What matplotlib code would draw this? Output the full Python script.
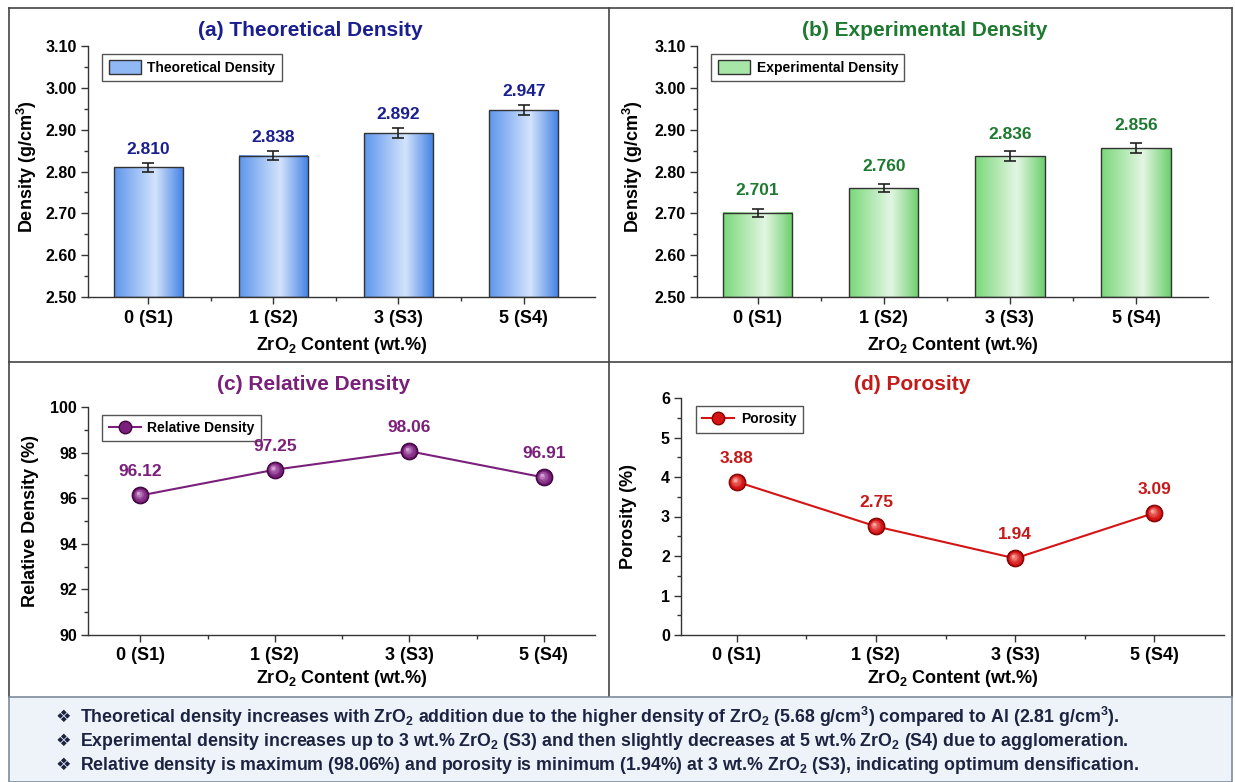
import matplotlib
matplotlib.use("Agg")
import matplotlib.pyplot as plt
import numpy as np
from matplotlib.colors import LinearSegmentedColormap, to_rgb
from matplotlib.lines import Line2D
from matplotlib.patches import Rectangle, Patch
from matplotlib.ticker import AutoMinorLocator, FixedLocator, FormatStrFormatter
import matplotlib.transforms as mtransforms

plt.rcParams['font.family'] = ['Liberation Sans', 'DejaVu Sans']
plt.rcParams['font.weight'] = 'bold'
plt.rcParams['axes.labelweight'] = 'bold'
plt.rcParams['mathtext.fontset'] = 'custom'
plt.rcParams['mathtext.rm'] = 'Liberation Sans:bold'
plt.rcParams['mathtext.bf'] = 'Liberation Sans:bold'
plt.rcParams['mathtext.it'] = 'Liberation Sans:bold'

# data
samples = ['0 (S1)', '1 (S2)', '3 (S3)', '5 (S4)']
theoretical = [2.810, 2.838, 2.892, 2.947]
theoretical_err = [0.010, 0.010, 0.012, 0.013]
experimental = [2.701, 2.760, 2.836, 2.856]
experimental_err = [0.010, 0.010, 0.012, 0.012]
relative = [96.12, 97.25, 98.06, 96.91]
porosity = [3.88, 2.75, 1.94, 3.09]

notes = [
    r'Theoretical density increases with ZrO$_2$ addition due to the higher density of ZrO$_2$ (5.68 g/cm$^3$) compared to Al (2.81 g/cm$^3$).',
    r'Experimental density increases up to 3 wt.% ZrO$_2$ (S3) and then slightly decreases at 5 wt.% ZrO$_2$ (S4) due to agglomeration.',
    r'Relative density is maximum (98.06%) and porosity is minimum (1.94%) at 3 wt.% ZrO$_2$ (S3), indicating optimum densification.',
]

W, H = 1235, 782
fig = plt.figure(figsize=(W / 100, H / 100), dpi=100)
fig.patch.set_facecolor('white')


def px_axes(left, right, top, bottom):
    ax = fig.add_axes([left / W, 1 - bottom / H, (right - left) / W, (bottom - top) / H])
    ax._px = (left, right, top, bottom)
    return ax


def style_axes(ax, ylim, major, minor_n, xlim, xlabelpad):
    for s in ['top', 'right']:
        ax.spines[s].set_visible(False)
    for s in ['left', 'bottom']:
        ax.spines[s].set_color('#333333')
        ax.spines[s].set_linewidth(1.0)
    ax.set_xlim(*xlim)
    ax.set_ylim(*ylim)
    ax.set_yticks(np.arange(ylim[0], ylim[1] + major / 2, major))
    ax.yaxis.set_minor_locator(AutoMinorLocator(minor_n))
    x = np.arange(len(samples))
    ax.set_xticks(x)
    ax.set_xticklabels(samples)
    ax.xaxis.set_minor_locator(FixedLocator(x[:-1] + 0.5))
    ax.tick_params(axis='both', which='major', direction='out', length=5, width=1, color='#333333')
    ax.tick_params(axis='both', which='minor', direction='out', length=3, width=1, color='#333333')
    ax.tick_params(axis='x', labelsize=13, pad=4)
    ax.tick_params(axis='y', labelsize=11.5, pad=3)
    ax.set_xlabel(r'ZrO$_2$ Content (wt.%)', fontsize=13, labelpad=xlabelpad)


def set_ylabel_px(ax, text, x_center, y_frac):
    # place the rotated label by its centre in figure pixels
    left, right, top, bottom = ax._px
    ax.set_ylabel(text, fontsize=13)
    ax.yaxis.set_label_coords((x_center + 9 - left) / (right - left), y_frac)


def gradient_bars(ax, vals, errs, base, c_edge, c_mid, c_right):
    x = np.arange(len(vals))
    heights = [v - base for v in vals]
    bars = ax.bar(x, heights, bottom=base, width=0.55, facecolor='none', edgecolor='#333333',
                  linewidth=1.0, zorder=3)
    cmap = LinearSegmentedColormap.from_list('bar', [(0, c_edge), (0.6, c_mid), (1, c_right)])
    grad = np.linspace(0, 1, 256).reshape(1, -1)
    for b in bars:
        bx, by = b.get_xy()
        ax.imshow(grad, extent=[bx, bx + b.get_width(), by, by + b.get_height()],
                  cmap=cmap, aspect='auto', zorder=2, interpolation='bilinear')
    ax.errorbar(x, vals, yerr=errs, fmt='none', ecolor='#222222', elinewidth=1.2,
                capsize=4, capthick=1.2, zorder=4)
    return bars


def sphere_line(ax, vals, base, dark, light):
    x = np.arange(len(vals))
    ax.plot(x, vals, '-', color=base, lw=1.5, zorder=3)
    ax.plot(x, vals, 'o', ms=12, mfc=dark, mec=dark, mew=0.8, zorder=4)
    # shading layers for a glossy ball look
    sizes = [10.5, 8.5, 6.5, 4.2, 2.3]
    mix = [0.0, 0.15, 0.35, 0.6, 0.9]
    for i, (s, t) in enumerate(zip(sizes, mix)):
        off = mtransforms.offset_copy(ax.transData, fig=fig, x=-0.38 * i, y=0.38 * i, units='points')
        c = np.array(to_rgb(base)) * (1 - t) + np.array(to_rgb(light)) * t
        ax.plot(x, vals, 'o', ms=s, mfc=c, mec='none', transform=off, zorder=5 + i)
    return Line2D([], [], color=base, lw=1.5, marker='o', ms=9, mfc=base, mec=dark)


def value_labels(ax, vals, fmt, color, offset):
    for i, v in enumerate(vals):
        ax.annotate(fmt.format(v), (i, v), xytext=(0, offset), textcoords='offset points',
                    ha='center', va='center', fontsize=12.5, color=color, fontweight='bold', zorder=10)


def legend(ax, handles, labels):
    leg = ax.legend(handles, labels, loc='upper left', bbox_to_anchor=(0.02, 0.985), fontsize=10,
                    fancybox=False, framealpha=1, edgecolor='#555555', handlelength=2.3,
                    handleheight=1.1, borderpad=0.45, handletextpad=0.5, borderaxespad=0.3)
    leg.get_frame().set_linewidth(1.0)


# (a) theoretical density
ax_a = px_axes(88, 595, 46, 297)
gradient_bars(ax_a, theoretical, theoretical_err, 2.5, '#5d96ec', '#d3e3fb', '#4684e6')
style_axes(ax_a, (2.5, 3.1), 0.1, 2, (-0.48, 3.57), 6)
ax_a.yaxis.set_major_formatter(FormatStrFormatter('%.2f'))
set_ylabel_px(ax_a, r'Density (g/cm$^3$)', 30, 0.52)
value_labels(ax_a, theoretical, '{:.3f}', '#1a1f8f', 13)
legend(ax_a, [Patch(facecolor='#8fb8f4', edgecolor='#333333')], ['Theoretical Density'])

# (b) experimental density
ax_b = px_axes(697, 1208, 46, 297)
gradient_bars(ax_b, experimental, experimental_err, 2.5, '#79d879', '#e3f6e3', '#6ccf6c')
style_axes(ax_b, (2.5, 3.1), 0.1, 2, (-0.48, 3.57), 6)
ax_b.yaxis.set_major_formatter(FormatStrFormatter('%.2f'))
set_ylabel_px(ax_b, r'Density (g/cm$^3$)', 636, 0.52)
value_labels(ax_b, experimental, '{:.3f}', '#1e7a30', 16)
legend(ax_b, [Patch(facecolor='#a8e6a8', edgecolor='#333333')], ['Experimental Density'])

# (c) relative density
ax_c = px_axes(88, 595, 407, 635)
h_c = sphere_line(ax_c, relative, '#7a1f7a', '#3f043f', '#e0b0e0')
style_axes(ax_c, (90, 100), 2, 2, (-0.39, 3.38), 2.5)
set_ylabel_px(ax_c, 'Relative Density (%)', 30, 0.5)
value_labels(ax_c, relative, '{:.2f}', '#7a1f7a', 17)
legend(ax_c, [h_c], ['Relative Density'])

# (d) porosity
ax_d = px_axes(681, 1224, 398, 635)
h_d = sphere_line(ax_d, porosity, '#d41414', '#850000', '#ffb8b0')
style_axes(ax_d, (0, 6), 1, 2, (-0.4, 3.5), 2.5)
set_ylabel_px(ax_d, 'Porosity (%)', 628, 0.5)
value_labels(ax_d, porosity, '{:.2f}', '#c41a1a', 17)
legend(ax_d, [h_d], ['Porosity'])

# panel titles
titles = [('(a) Theoretical Density', 310, 30, '#1a1f8f'),
          ('(b) Experimental Density', 925, 30, '#1e7a30'),
          ('(c) Relative Density', 314, 384, '#7a1f7a'),
          ('(d) Porosity', 912, 384, '#c41a1a')]
for t, x, y, c in titles:
    fig.text(x / W, 1 - y / H, t, ha='center', va='center', fontsize=15, color=c, fontweight='bold')

# frame lines around the four panels
line_kw = dict(color='#444444', lw=1.2, transform=fig.transFigure, zorder=0)
for xs, ys in [([9, 1232], [8, 8]), ([9, 9], [8, 697]), ([1232, 1232], [8, 697]),
               ([609, 609], [8, 697]), ([9, 1232], [362, 362])]:
    fig.add_artist(Line2D([x / W for x in xs], [1 - y / H for y in ys], **line_kw))

# notes box
fig.add_artist(Rectangle((9 / W, 0), (1232 - 9) / W, 1 - 697 / H, transform=fig.transFigure,
                         facecolor='#eef3f9', edgecolor='#7d8b99', lw=1.2, zorder=0))
for i, note in enumerate(notes):
    y = 1 - (717 + 24 * i) / H
    fig.text(63 / W, y, '\u2756', ha='center', va='center', fontsize=12.5,
             family='DejaVu Sans', color='#1c2340')
    fig.text(80 / W, y, note, ha='left', va='center', fontsize=12.8, color='#1c2340',
             fontweight='bold')

fig.savefig('out.png', dpi=100)
